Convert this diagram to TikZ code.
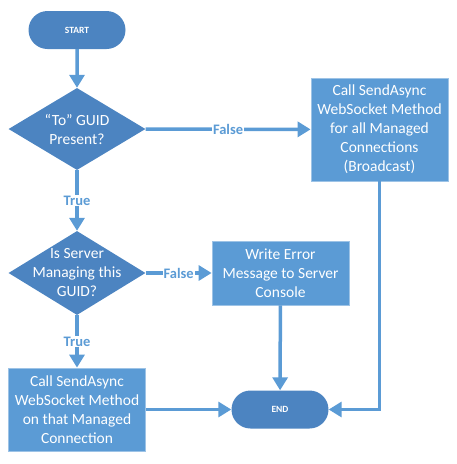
\documentclass[tikz,border=0pt]{standalone}
\usepackage{fontspec}
\setmainfont{Carlito}
\usetikzlibrary{shapes.geometric,shapes.misc,arrows.meta}
\definecolor{flowline}{HTML}{5B9BD5}
\definecolor{boxfill}{HTML}{5B9BD5}
\definecolor{boxedge}{HTML}{9DC3E6}
\definecolor{darkfill}{HTML}{4C84C1}
\begin{document}
\begin{tikzpicture}[x=1pt, y=-1pt,
    terminal/.style={rounded rectangle, fill=darkfill, text=white, minimum width=97pt, minimum height=38pt, inner sep=0pt, font=\bfseries\fontsize{9.5}{11}\selectfont},
    decision/.style={diamond, fill=darkfill, minimum width=137pt, minimum height=#1, inner sep=0pt},
    dectext/.style={text=white, align=center, inner sep=0pt, font=\fontsize{15.5}{19}\selectfont},
    process/.style={rectangle, fill=boxfill, draw=boxedge, line width=0.8pt, text=white, align=center, minimum width=137pt, minimum height=#1, inner sep=0pt, font=\fontsize{15.5}{19}\selectfont},
    flow/.style={line width=3.5pt, flowline, -{Triangle[width=15pt,length=13pt]}},
    branch/.style={fill=white, text=flowline, inner sep=1pt, font=\bfseries\fontsize{14.5}{17}\selectfont}]
    \useasboundingbox (0, 0) rectangle (456, 464);
    \node [terminal] (start) at (77, 30) {START};
    \node [decision=82pt, label={[dectext]center:{``To'' GUID\\Present?}}] (guid) at (77, 129) {};
    \node [process=103pt] (broadcast) at (379.5, 129.5) {Call SendAsync\\WebSocket Method\\for all Managed\\Connections\\(Broadcast)};
    \node [decision=84pt, label={[dectext]center:{Is Server\\Managing this\\GUID?}}] (managed) at (77, 273) {};
    \node [process=64pt] (error) at (280.5, 273) {Write Error\\Message to Server\\Console};
    \node [process=83pt] (single) at (77, 409.5) {Call SendAsync\\WebSocket Method\\on that Managed\\Connection};
    \node [terminal] (end) at (280, 409.5) {END};
    \draw [flow] (start) -- (guid);
    \draw [flow] (guid) -- node [branch] {False} (broadcast);
    \draw [flow] (guid) -- node [branch] {True} (managed);
    \draw [flow] (managed) -- node [branch] {False} (error);
    \draw [flow] (managed) -- node [branch] {True} (single);
    \draw [flow] (single) -- (end);
    \draw [flow] (error) -- (end);
    \draw [flow] (broadcast.south) |- (end.east);
\end{tikzpicture}
\end{document}
